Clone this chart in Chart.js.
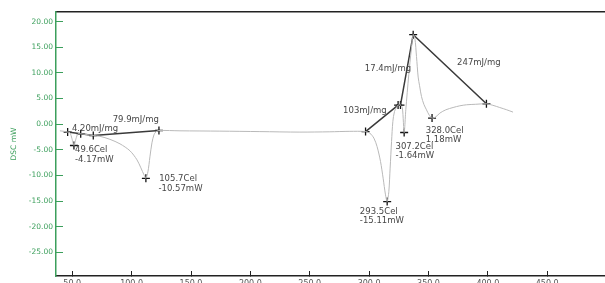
<!DOCTYPE html>
<html>
<head>
<meta charset="utf-8">
<script src="https://cdn.jsdelivr.net/npm/chart.js@4.4.1/dist/chart.umd.min.js"></script>
<style>
  html, body { margin: 0; padding: 0; background: #fff; overflow: hidden; }
  /* 5px wider than the window: the chart area runs off the right edge like the original */
  #wrap { width: 610px; height: 283px; position: relative; }
</style>
</head>
<body>
<div id="wrap"><canvas id="myChart"></canvas></div>
<script>
// DSC curve (axis units / mW)
const curveX = [39.6, 43.0, 46.1, 48.1, 49.7, 51.4, 53.1, 54.8, 57.1, 60.7, 67.7, 73.3, 81.7, 90.2, 98.6, 104.5, 107.8, 110.4, 112.0, 113.7, 115.4, 117.1, 118.8, 120.5, 123.0,
  140.7, 174.3, 208.0, 241.7, 266.9, 283.8, 297.0, 300.6, 304.0, 306.7, 309.6, 311.8, 313.8, 315.2, 316.6, 317.7, 318.9, 320.0, 321.4, 324.4, 326.4, 328.0, 329.5,
  330.9, 333.4, 335.5, 337.1, 338.5, 339.9, 341.3, 342.5, 344.1, 346.1, 348.3, 350.7, 353.0, 356.2, 359.6, 364.6, 370.7, 376.4, 382.0, 389.8, 398.8, 404.2, 410.0, 415.9, 421.2];
const curveY = [-1.31, -1.41, -1.56, -1.70, -2.81, -4.17, -2.87, -1.89, -1.89, -1.99, -2.23, -2.38, -2.97, -3.85, -5.21, -6.97, -8.54, -9.90, -10.57, -9.32, -6.39, -3.65, -2.09, -1.50, -1.25,
  -1.31, -1.37, -1.46, -1.56, -1.50, -1.41, -1.45, -1.76, -2.73, -4.38, -7.30, -10.55, -13.81, -15.11, -13.16, -8.59, -3.40, 0.51, 2.46, 3.71, 3.71, 3.18, -1.64,
  2.80, 9.63, 14.51, 17.44, 16.76, 13.20, 9.18, 7.48, 5.39, 3.87, 2.79, 1.72, 1.18, 1.43, 2.15, 2.79, 3.24, 3.57, 3.77, 3.87, 3.96, 3.67, 3.24, 2.79, 2.34];

// "+" markers
const markX = [46.1, 51.4, 57.1, 67.7, 112.0, 123.0, 297.0, 315.2, 324.4, 326.4, 329.5, 337.1, 353.0, 398.8];
const markY = [-1.56, -4.17, -1.89, -2.23, -10.57, -1.25, -1.45, -15.11, 3.71, 3.71, -1.64, 17.44, 1.18, 3.96];

// integration baselines (null = break)
const baseX = [46.1, 57.1, 67.7, 123.0, null, 297.0, 324.4, null, 326.4, 337.1, 398.8];
const baseY = [-1.56, -1.89, -2.23, -1.25, null, -1.45, 3.71, null, 3.71, 17.44, 3.96];

// text notes, anchored at (left, middle) in data units
const noteText = ['4.20mJ/mg', '79.9mJ/mg', '49.6Cel', '-4.17mW', '105.7Cel', '-10.57mW', '103mJ/mg', '17.4mJ/mg', '247mJ/mg',
  '328.0Cel', '1.18mW', '307.2Cel', '-1.64mW', '293.5Cel', '-15.11mW'];
const noteX = [49.7, 84.0, 52.3, 52.3, 123.2, 122.6, 278.1, 296.4, 374.1, 347.7, 347.7, 322.2, 322.2, 292.2, 292.2];
const noteY = [-0.92, 0.90, -5.02, -6.88, -10.68, -12.54, 2.60, 10.70, 11.88, -1.31, -2.97, -4.34, -6.19, -17.13, -18.89];

const xTicks = [50, 100, 150, 200, 250, 300, 350, 400, 450];
const yTicks = [-25, -20, -15, -10, -5, 0, 5, 10, 15, 20];

const X_MIN = 36.3, X_MAX = 498.4;
const GREEN = '#3c9f5c';

const pts = (xs, ys) => xs.map((x, i) => ({ x: x, y: ys[i] }));

// no extra label padding, fixed axis boxes
function fixBox(w, h) {
  return s => {
    if (w !== null) s.width = w;
    if (h !== null) s.height = h;
    s.paddingTop = 0; s.paddingBottom = 0; s.paddingLeft = 0; s.paddingRight = 0;
  };
}

const notesPlugin = {
  id: 'notes',
  afterDatasetsDraw(chart) {
    const ctx = chart.ctx;
    const sx = chart.scales.x, sy = chart.scales.y;
    ctx.save();
    ctx.fillStyle = '#474747';
    ctx.font = '8.5px "DejaVu Sans"';
    ctx.textAlign = 'left';
    ctx.textBaseline = 'middle';
    noteText.forEach((t, i) => {
      ctx.fillText(t, sx.getPixelForValue(noteX[i]), sy.getPixelForValue(noteY[i]));
    });
    ctx.restore();
  }
};

new Chart(document.getElementById('myChart'), {
  type: 'scatter',
  data: {
    datasets: [
      {
        data: pts(curveX, curveY),
        showLine: true,
        borderColor: '#b9b9b9',
        borderWidth: 1,
        pointRadius: 0,
        tension: 0.3
      },
      {
        data: pts(baseX, baseY),
        showLine: true,
        spanGaps: false,
        borderColor: '#3a3a3a',
        borderWidth: 1.5,
        pointRadius: 0
      },
      {
        data: pts(markX, markY),
        showLine: false,
        pointStyle: 'cross',
        pointRadius: 4,
        borderColor: '#111',
        borderWidth: 1.3
      }
    ]
  },
  options: {
    responsive: true,
    maintainAspectRatio: false,
    animation: false,
    layout: { padding: 0 },
    plugins: { legend: { display: false }, tooltip: { enabled: false } },
    scales: {
      x: {
        type: 'linear', position: 'bottom', min: X_MIN, max: X_MAX,
        afterBuildTicks: s => { s.ticks = xTicks.map(v => ({ value: v })); },
        afterFit: fixBox(null, 7),
        grid: { drawOnChartArea: false, drawTicks: true, tickLength: -5, color: '#222' },
        border: { color: '#222', width: 1.5 },
        ticks: {
          padding: 8, color: '#555', maxRotation: 0, autoSkip: false,
          font: { family: 'DejaVu Sans', size: 8 },
          callback: v => v.toFixed(1)
        }
      },
      xTop: {
        type: 'linear', position: 'top', min: X_MIN, max: X_MAX,
        afterFit: fixBox(null, 12),
        grid: { drawOnChartArea: false, drawTicks: false },
        border: { color: '#222', width: 1.5 },
        ticks: { display: false }
      },
      y: {
        type: 'linear', position: 'left', min: -29.63, max: 21.87,
        afterBuildTicks: s => { s.ticks = yTicks.map(v => ({ value: v })); },
        afterFit: fixBox(56, null),
        grid: { drawOnChartArea: false, drawTicks: true, tickLength: -7, color: GREEN },
        border: { color: GREEN, width: 1.5 },
        title: {
          display: true, text: 'DSC mW', color: GREEN,
          font: { family: 'DejaVu Sans', size: 7.5 },
          padding: { top: 10, bottom: 0 }
        },
        ticks: {
          padding: 10, color: GREEN,
          font: { family: 'DejaVu Sans', size: 7.5 },
          callback: v => v.toFixed(2)
        }
      }
    }
  },
  plugins: [notesPlugin]
});
</script>
</body>
</html>
